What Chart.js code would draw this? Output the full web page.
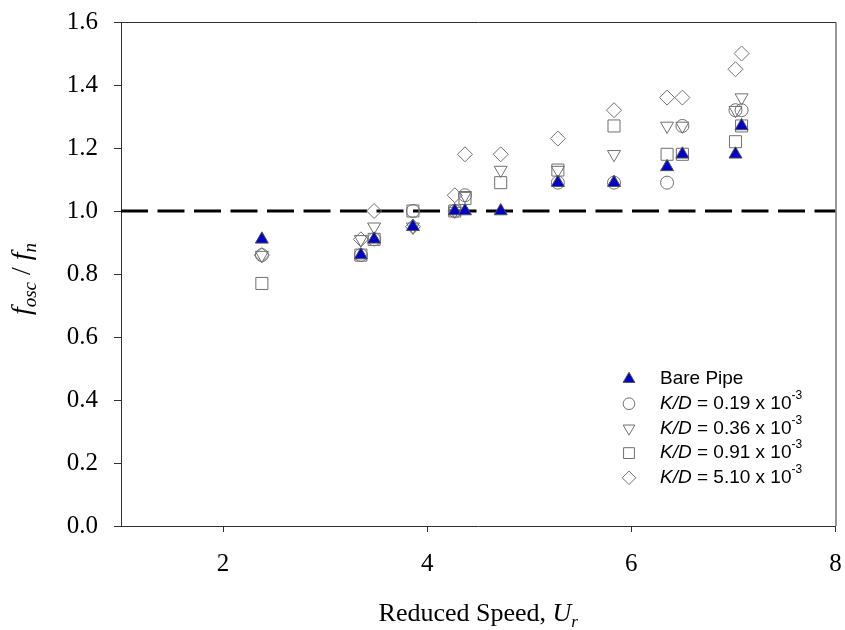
<!DOCTYPE html>
<html>
<head>
<meta charset="utf-8">
<title>Frequency ratio vs reduced speed</title>
<script src="https://cdn.jsdelivr.net/npm/chart.js@4.4.1/dist/chart.umd.min.js"></script>
<style>
  html, body { margin: 0; padding: 0; background: #fff; }
  canvas { display: block; }
</style>
</head>
<body>
<canvas id="chart" width="845" height="630"></canvas>
<script>
// Reduced speed U_r of each test run
const reducedSpeed = [2.38, 3.35, 3.48, 3.86, 4.27, 4.37, 4.72, 5.28, 5.83, 6.35, 6.50, 7.02, 7.08];

// f_osc / f_n for each surface roughness (null = no point)
const barePipe = [0.91, 0.86, 0.91, 0.95, 1.00, 1.00, 1.00, 1.09, 1.09, 1.14, 1.18, 1.18, 1.27];
const kd019    = [0.86, 0.86, 0.91, 1.00, 1.00, 1.05, null, 1.09, 1.09, 1.09, 1.27, 1.32, 1.32];
const kd036    = [0.86, 0.91, 0.95, 0.95, 1.00, 1.05, 1.13, 1.13, 1.18, 1.27, 1.27, 1.32, 1.36];
const kd091    = [0.77, 0.86, 0.91, 1.00, 1.00, 1.04, 1.09, 1.13, 1.27, 1.18, 1.18, 1.22, 1.27];
const kd510    = [0.86, 0.91, 1.00, 0.95, 1.05, 1.18, 1.18, 1.23, 1.32, 1.36, 1.36, 1.45, 1.50];

const roughness = ['0.19', '0.36', '0.91', '5.10'];
const xTicks = [2, 4, 6, 8];
const yTicks = [0, 0.2, 0.4, 0.6, 0.8, 1.0, 1.2, 1.4, 1.6];
const unityRatio = 1.0;

const SERIF = '"Liberation Serif", "Times New Roman", serif';
const SANS = '"Liberation Sans", Arial, sans-serif';
const AXIS_COLOR = '#303030';

// marker look per series: bare pipe, then K/D cases
const markers = [
    { pointStyle: 'triangle', radius: 7.5, rotation: 0,   fill: '#0000c8', stroke: '#505050' },
    { pointStyle: 'circle',   radius: 6.5, rotation: 0,   fill: 'rgba(255,255,255,0)', stroke: '#707070' },
    { pointStyle: 'triangle', radius: 7.5, rotation: 180, fill: 'rgba(255,255,255,0)', stroke: '#707070' },
    { pointStyle: 'rect',     radius: 8.5, rotation: 0,   fill: 'rgba(255,255,255,0)', stroke: '#707070' },
    { pointStyle: 'rectRot',  radius: 7.5, rotation: 0,   fill: 'rgba(255,255,255,0)', stroke: '#707070' }
];

function toPoints(values) {
    return reducedSpeed
        .map((x, i) => ({ x: x, y: values[i] }))
        .filter(p => p.y !== null);
}

function scatterSet(label, values, m, order) {
    return {
        label: label,
        data: toPoints(values),
        pointStyle: m.pointStyle,
        pointRadius: m.radius,
        pointRotation: m.rotation,
        pointBackgroundColor: m.fill,
        pointBorderColor: m.stroke,
        pointBorderWidth: 1,
        showLine: false,
        order: order
    };
}

// draw a row of text pieces with their own fonts / vertical shifts
function runsWidth(ctx, runs) {
    let w = 0;
    runs.forEach(r => { ctx.font = r.font; w += ctx.measureText(r.text).width; });
    return w;
}
function drawRuns(ctx, runs, x, y) {
    runs.forEach(r => {
        ctx.font = r.font;
        ctx.fillText(r.text, x, y + (r.dy || 0));
        x += ctx.measureText(r.text).width;
    });
}

const decorations = {
    id: 'decorations',
    afterDraw(chart) {
        const ctx = chart.ctx;
        const a = chart.chartArea;
        ctx.save();

        // top and right frame lines
        ctx.strokeStyle = AXIS_COLOR;
        ctx.lineWidth = 1;
        ctx.beginPath();
        ctx.moveTo(a.left, a.top + 0.5);
        ctx.lineTo(a.right + 0.5, a.top + 0.5);
        ctx.lineTo(a.right + 0.5, a.bottom);
        ctx.stroke();

        ctx.fillStyle = '#000';
        ctx.textBaseline = 'alphabetic';
        ctx.textAlign = 'left';

        // x axis title
        const xRuns = [
            { text: 'Reduced Speed, ', font: '26px ' + SERIF },
            { text: 'U', font: 'italic 26px ' + SERIF },
            { text: 'r', font: 'italic 17px ' + SERIF, dy: 6 }
        ];
        const xw = runsWidth(ctx, xRuns);
        drawRuns(ctx, xRuns, (a.left + a.right) / 2 - xw / 2, 621);

        // y axis title, rotated
        const yRuns = [
            { text: 'f', font: 'italic 28px ' + SERIF },
            { text: 'osc', font: 'italic 19px ' + SERIF, dy: 6 },
            { text: ' / ', font: '28px ' + SERIF },
            { text: 'f', font: 'italic 28px ' + SERIF },
            { text: 'n', font: 'italic 19px ' + SERIF, dy: 6 }
        ];
        const yw = runsWidth(ctx, yRuns);
        ctx.save();
        ctx.translate(30, 279);
        ctx.rotate(-Math.PI / 2);
        drawRuns(ctx, yRuns, -yw / 2, 0);
        ctx.restore();

        // legend
        const rowY = 379, rowStep = 24.7, markX = 629, textX = 660;
        const labels = [[{ text: 'Bare Pipe', font: '19px ' + SANS }]].concat(
            roughness.map(k => [
                { text: 'K/D', font: 'italic 19px ' + SANS },
                { text: ' = ' + k + ' x 10', font: '19px ' + SANS },
                { text: '-3', font: '12px ' + SANS, dy: -8 }
            ])
        );
        ctx.textBaseline = 'middle';
        labels.forEach((runs, i) => {
            const y = rowY + i * rowStep;
            const m = markers[i];
            ctx.fillStyle = m.fill;
            ctx.strokeStyle = m.stroke;
            ctx.lineWidth = 1;
            Chart.helpers.drawPoint(ctx, {
                pointStyle: m.pointStyle,
                radius: m.radius * 0.9,
                rotation: m.rotation,
                borderWidth: 1
            }, markX, y);
            ctx.fillStyle = '#000';
            drawRuns(ctx, runs, textX, y);
        });

        ctx.restore();
    }
};

new Chart(document.getElementById('chart'), {
    type: 'scatter',
    data: {
        datasets: [
            {
                label: 'unity',
                data: [{ x: 1, y: unityRatio }, { x: 8, y: unityRatio }],
                showLine: true,
                borderColor: '#000',
                borderWidth: 3,
                borderDash: [27, 9.5],
                pointRadius: 0,
                order: 10
            },
            scatterSet('K/D = 5.10', kd510, markers[4], 4),
            scatterSet('K/D = 0.91', kd091, markers[3], 3),
            scatterSet('K/D = 0.36', kd036, markers[2], 2),
            scatterSet('K/D = 0.19', kd019, markers[1], 1),
            scatterSet('Bare Pipe', barePipe, markers[0], 0)
        ]
    },
    options: {
        responsive: false,
        animation: false,
        layout: { padding: { top: 22, right: 5, left: 0, bottom: 0 } },
        plugins: {
            legend: { display: false },
            tooltip: { enabled: false }
        },
        scales: {
            x: {
                type: 'linear',
                min: 1,
                max: 8,
                afterBuildTicks: scale => { scale.ticks = xTicks.map(v => ({ value: v })); },
                afterFit: scale => {
                    scale.height = 104;
                    scale.paddingLeft = 0;
                    scale.paddingRight = 0;
                },
                grid: { drawOnChartArea: false, tickLength: 6, color: AXIS_COLOR },
                border: { color: AXIS_COLOR, width: 1 },
                ticks: {
                    color: '#000',
                    padding: 17,
                    font: { family: SERIF, size: 25 }
                }
            },
            y: {
                type: 'linear',
                min: 0,
                max: 1.6,
                afterBuildTicks: scale => { scale.ticks = yTicks.map(v => ({ value: v })); },
                afterFit: scale => {
                    scale.width = 121;
                    scale.paddingTop = 0;
                    scale.paddingBottom = 0;
                },
                grid: { drawOnChartArea: false, tickLength: 7, color: AXIS_COLOR },
                border: { color: AXIS_COLOR, width: 1 },
                ticks: {
                    color: '#000',
                    padding: 16,
                    font: { family: SERIF, size: 25 },
                    callback: v => v.toFixed(1)
                }
            }
        }
    },
    plugins: [decorations]
});
</script>
</body>
</html>
